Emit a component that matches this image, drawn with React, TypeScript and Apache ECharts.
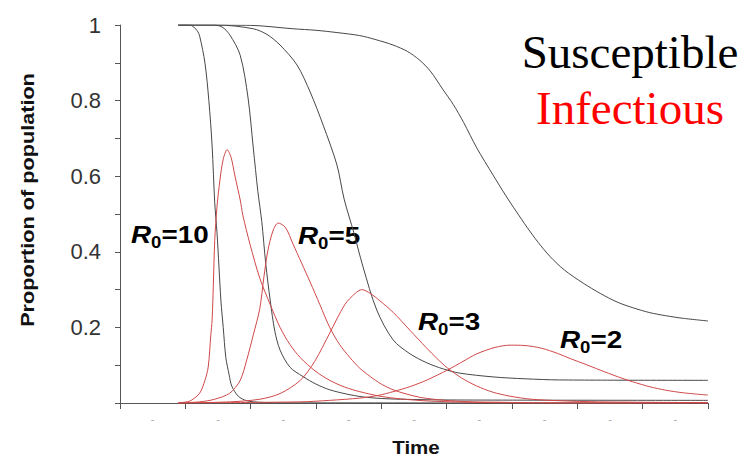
import React, { useEffect, useRef } from "react";
import * as echarts from "echarts";

// ---- Data (time in arbitrary units, one major tick = 10) ----
const xTickStep = 10;
const xMax = 90;
const yTickStep = 0.1;

const r0Labels = ["10", "5", "3", "2"];
const legendLines = ["Susceptible", "Infectious"];

// Susceptible proportions [time, value]
const s10: [number, number][] = [
  [8.9, 1], [10.7, 1], [11.8, 0.985], [12.2, 0.97], [13.0, 0.9], [13.6, 0.8], [14.1, 0.68],
  [14.5, 0.53], [14.85, 0.45], [15.15, 0.36], [15.45, 0.27], [15.8, 0.2], [16.2, 0.12],
  [16.7, 0.075], [17.1, 0.045], [18.1, 0.018], [19.4, 0.006], [21.4, 0.002], [24.5, 0.0005], [90, 0],
];
const s5: [number, number][] = [
  [8.9, 1], [14.2, 1], [15.6, 0.995], [16.8, 0.974], [18.4, 0.92], [19.6, 0.807], [20.4, 0.675],
  [21.1, 0.56], [21.7, 0.48], [22.3, 0.37], [23.0, 0.27], [23.7, 0.19], [24.5, 0.14], [26.0, 0.095],
  [28.0, 0.07], [30.0, 0.05], [32.1, 0.035], [34.6, 0.024], [37.2, 0.016], [40, 0.012],
  [42.9, 0.01], [50.5, 0.008], [90, 0.007],
];
const s3: [number, number][] = [
  [8.9, 1], [15, 1], [20.4, 0.99], [22.5, 0.975], [24.5, 0.947], [27.1, 0.894], [29.1, 0.823],
  [31.1, 0.735], [33.2, 0.63], [34.3, 0.54], [35.8, 0.45], [37.2, 0.36], [39.3, 0.246],
  [41.8, 0.167], [44.4, 0.13], [47.0, 0.106], [49.5, 0.09], [52.0, 0.079], [57.1, 0.069],
  [62, 0.064], [67.3, 0.061], [90, 0.06],
];
const s2: [number, number][] = [
  [8.9, 1], [20, 0.999], [26.5, 0.99], [30, 0.986], [33.2, 0.98], [36.7, 0.972], [39, 0.962],
  [41.8, 0.947], [44, 0.93], [45.8, 0.908], [47.5, 0.878], [49.4, 0.83], [51, 0.79],
  [52.6, 0.742], [54.6, 0.675], [57.1, 0.603], [59, 0.55], [60.6, 0.508], [62.3, 0.465],
  [64, 0.425], [65.8, 0.388], [68, 0.352], [70.9, 0.317], [73.5, 0.29], [76.1, 0.267],
  [78.5, 0.252], [81.1, 0.239], [83.5, 0.231], [86.2, 0.224], [90, 0.217],
];

// Infectious proportions [time, value]
const i10: [number, number][] = [
  [8.9, 0], [9.2, 0.001], [10.3, 0.003], [11.0, 0.008], [12.2, 0.026], [13.0, 0.06], [13.5, 0.095],
  [13.9, 0.18], [14.1, 0.22], [14.3, 0.32], [14.5, 0.43], [14.85, 0.52], [15.3, 0.59],
  [15.8, 0.645], [16.4, 0.67], [17.0, 0.65], [17.6, 0.6], [18.4, 0.537], [18.8, 0.497],
  [19.9, 0.42], [21.4, 0.33], [23.0, 0.26], [24.5, 0.2], [26.0, 0.155], [27.6, 0.12],
  [29.85, 0.085], [32.1, 0.06], [34.4, 0.042], [36.7, 0.03], [39.8, 0.018], [42.9, 0.011],
  [47.5, 0.005], [53.6, 0.002], [61.2, 0], [90, 0],
];
const i5: [number, number][] = [
  [8.9, 0], [12.2, 0.003], [14.5, 0.01], [16.8, 0.026], [18.4, 0.06], [19.4, 0.114], [20.4, 0.18],
  [21.4, 0.25], [22.0, 0.33], [22.6, 0.4], [23.4, 0.455], [24.2, 0.476], [25.3, 0.465],
  [26.5, 0.42], [27.8, 0.37], [29.1, 0.32], [30.6, 0.26], [32.1, 0.2], [33.6, 0.155],
  [35.2, 0.12], [36.7, 0.092], [38.3, 0.07], [40.0, 0.05], [41.8, 0.035], [43.8, 0.024],
  [45.9, 0.015], [48.0, 0.01], [50.5, 0.006], [54.0, 0.003], [58.2, 0.002], [63, 0.0005],
  [67.3, 0], [90, 0],
];
const i3: [number, number][] = [
  [8.9, 0], [16.8, 0.003], [21.4, 0.01], [24.5, 0.025], [27.6, 0.06], [29.8, 0.11], [32.1, 0.185],
  [34.4, 0.26], [36.0, 0.29], [37.0, 0.3], [38.3, 0.29], [39.8, 0.27], [41.8, 0.24],
  [44.4, 0.192], [46.9, 0.146], [48.5, 0.118], [50.1, 0.093], [52.3, 0.066], [54.6, 0.045],
  [57.0, 0.029], [59.7, 0.018], [63.0, 0.01], [67.3, 0.006], [73.4, 0.003], [90, 0.001],
];
const i2: [number, number][] = [
  [8.9, 0], [27.6, 0.003], [32.1, 0.007], [36.7, 0.013], [39.5, 0.02], [41.8, 0.03], [44.5, 0.044],
  [47.0, 0.061], [50.1, 0.087], [52.5, 0.11], [54.6, 0.13], [57.4, 0.147], [59.7, 0.153],
  [62.0, 0.152], [64.5, 0.145], [67.0, 0.131], [69.0, 0.117], [71.0, 0.104], [73.5, 0.087],
  [76.1, 0.07], [78.5, 0.056], [81.1, 0.043], [83.5, 0.034], [86.2, 0.027], [90, 0.021],
];

const susceptibleSeries = [s10, s5, s3, s2];
const infectiousSeries = [i10, i5, i3, i2];

// ---- Styling / layout ----
const BLACK = "#474747";
const RED = "#d04848";
const labelPos = [
  { x: 131, y: 220 },
  { x: 298, y: 221 },
  { x: 418, y: 307 },
  { x: 560, y: 325 },
];

export default function App() {
  const ref = useRef<HTMLDivElement>(null);

  useEffect(() => {
    if (!ref.current) return;
    const chart = echarts.init(ref.current, undefined, { renderer: "svg" });

    const lineSeries: any[] = [];
    susceptibleSeries.forEach((d, k) => {
      lineSeries.push({
        type: "line",
        name: "S R0=" + r0Labels[k],
        data: d,
        xAxisIndex: 0,
        symbol: "none",
        showSymbol: false,
        smooth: 0.3,
        silent: true,
        lineStyle: { color: BLACK, width: 1 },
        itemStyle: { color: BLACK },
      });
    });
    infectiousSeries.forEach((d, k) => {
      lineSeries.push({
        type: "line",
        name: "I R0=" + r0Labels[k],
        data: d,
        xAxisIndex: 0,
        symbol: "none",
        showSymbol: false,
        smooth: 0.3,
        silent: true,
        lineStyle: { color: RED, width: 1 },
        itemStyle: { color: RED },
      });
    });

    const r0Graphics = r0Labels.map((v, k) => ({
      type: "text",
      x: labelPos[k].x,
      y: labelPos[k].y,
      scaleX: 1.16,
      silent: true,
      style: {
        text: "{r|R}{s|0}{n|=" + v + "}",
        align: "left",
        verticalAlign: "top",
        rich: {
          r: {
            fontSize: 24, fontWeight: "bold", fontStyle: "italic",
            fontFamily: "Liberation Sans", fill: "#000", lineHeight: 30,
          },
          s: {
            fontSize: 16, fontWeight: "bold", fontFamily: "Liberation Sans",
            fill: "#000", lineHeight: 16, verticalAlign: "bottom",
          },
          n: {
            fontSize: 24, fontWeight: "bold", fontFamily: "Liberation Sans",
            fill: "#000", lineHeight: 30,
          },
        },
      },
    }));

    chart.setOption({
      animation: false,
      backgroundColor: "#ffffff",
      grid: { left: 120, right: 40, top: 25, bottom: 56, containLabel: false },
      xAxis: [
        {
          type: "value",
          min: 0,
          max: xMax,
          interval: xTickStep,
          offset: 9,
          position: "bottom",
          axisLine: { show: true, lineStyle: { color: "#555", width: 1 } },
          axisTick: { show: true, length: 6, lineStyle: { color: "#555", width: 1 } },
          axisLabel: { show: false },
          splitLine: { show: false },
        },
        {
          type: "value",
          min: 0,
          max: xMax,
          interval: xTickStep / 2,
          offset: 9,
          position: "bottom",
          axisLine: { show: false },
          axisTick: { show: false },
          axisLabel: {
            show: true,
            margin: 1,
            fontSize: 11,
            color: "#a8a8a8",
            fontFamily: "Liberation Sans",
            formatter: (v: number) => (Math.round(v) % 10 === 5 ? "-" : ""),
          },
          splitLine: { show: false },
        },
      ],
      yAxis: {
        type: "value",
        min: 0,
        max: 1,
        interval: yTickStep,
        offset: 9,
        axisLine: { show: true, lineStyle: { color: "#555", width: 1 } },
        axisTick: { show: true, length: 5, lineStyle: { color: "#555", width: 1 } },
        axisLabel: {
          fontSize: 22,
          color: "#333",
          fontFamily: "Liberation Sans",
          margin: 10,
          formatter: (v: number) => {
            const r = Math.round(v * 10);
            if (r === 0 || r % 2 !== 0) return "";
            return r === 10 ? "1" : String(r / 10);
          },
        },
        splitLine: { show: false },
      },
      series: lineSeries,
      graphic: [
        {
          type: "text",
          x: 27,
          y: 200,
          rotation: Math.PI / 2,
          scaleX: 1.14,
          silent: true,
          style: {
            text: "Proportion of population",
            font: 'bold 19px "Liberation Sans"',
            fill: "#111",
            align: "center",
            verticalAlign: "middle",
          },
        },
        {
          type: "text",
          x: 416,
          y: 448,
          scaleX: 1.14,
          silent: true,
          style: {
            text: "Time",
            font: 'bold 18px "Liberation Sans"',
            fill: "#111",
            align: "center",
            verticalAlign: "middle",
          },
        },
        {
          type: "text",
          x: 630,
          y: 52,
          silent: true,
          style: {
            text: legendLines[0],
            font: '47px "Liberation Serif"',
            fill: "#000",
            align: "center",
            verticalAlign: "middle",
          },
        },
        {
          type: "text",
          x: 630,
          y: 108,
          silent: true,
          style: {
            text: legendLines[1],
            font: '47px "Liberation Serif"',
            fill: "#ff0000",
            align: "center",
            verticalAlign: "middle",
          },
        },
        ...r0Graphics,
      ],
    });

    return () => chart.dispose();
  }, []);

  return (
    <div
      ref={ref}
      style={{ position: "fixed", left: 0, top: 0, width: 748, height: 459 }}
    />
  );
}
